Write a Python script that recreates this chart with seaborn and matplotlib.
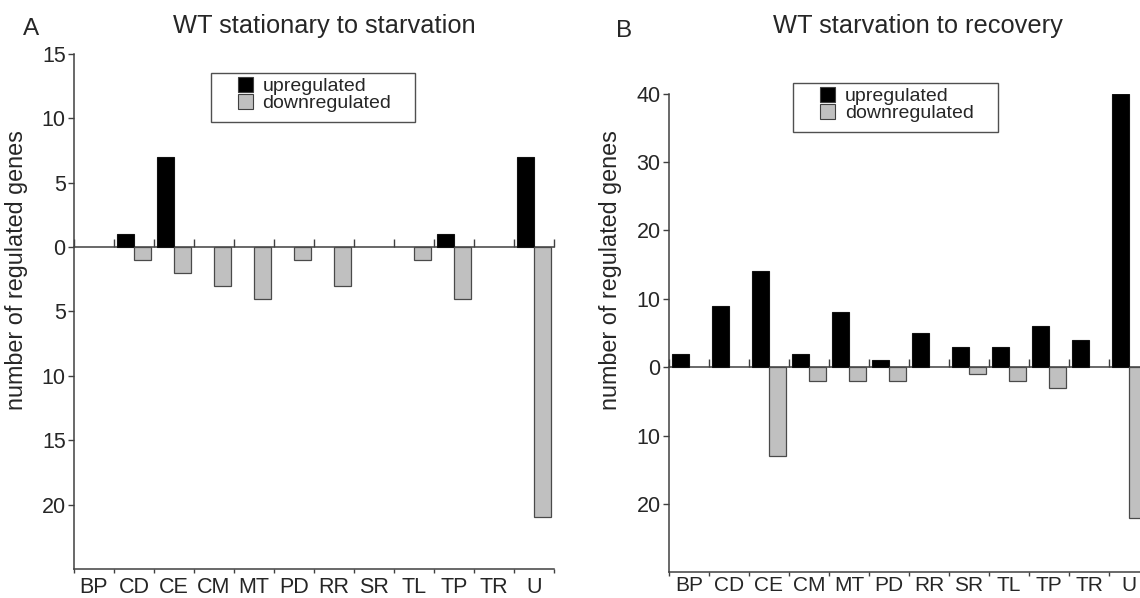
import numpy as np
import pandas as pd
import matplotlib
matplotlib.use("Agg")
import matplotlib.pyplot as plt
import seaborn as sns
from matplotlib.patches import Rectangle

# ---------------------------------------------------------------------------
# Data (number of regulated genes per functional class)
# ---------------------------------------------------------------------------
categories = ["BP", "CD", "CE", "CM", "MT", "PD", "RR", "SR", "TL", "TP", "TR", "U"]

# A - WT stationary to starvation
a_up = [0, 1, 7, 0, 0, 0, 0, 0, 0, 1, 0, 7]
a_down = [0, 1, 2, 3, 4, 1, 3, 0, 1, 4, 0, 21]

# B - WT starvation to recovery
b_up = [2, 9, 14, 2, 8, 1, 5, 3, 3, 6, 4, 40]
b_down = [0, 0, 13, 2, 2, 2, 0, 1, 2, 3, 0, 22]

a_yticks = [15, 10, 5, 0, -5, -10, -15, -20]
b_yticks = [40, 30, 20, 10, 0, -10, -20]

directions = ["upregulated", "downregulated"]

UP_COLOR = "#000000"
DOWN_COLOR = "#c0c0c0"
DOWN_EDGE = "#4a4a4a"
SPINE = "#404040"
TICK_FS = 15.5

sns.set_theme(style="white")
plt.rcParams["font.family"] = ["Liberation Sans", "DejaVu Sans"]


def long_df(up, down):
    # downregulated counts are drawn below the zero line
    return pd.DataFrame({
        "category": categories * 2,
        "direction": [directions[0]] * len(up) + [directions[1]] * len(down),
        "count": list(up) + [-v for v in down],
    })


def draw_panel(ax, up, down, ylim, yticks, leg_anchor, box, xpad, xfs):
    df = long_df(up, down)
    sns.barplot(data=df, x="category", y="count", hue="direction",
                hue_order=directions,
                palette={directions[0]: UP_COLOR, directions[1]: DOWN_COLOR},
                width=0.83, dodge=True, errorbar=None, ax=ax)

    for bar in ax.containers[0]:
        bar.set_edgecolor("#111111")
        bar.set_linewidth(0.8)
    for bar in ax.containers[1]:
        bar.set_edgecolor(DOWN_EDGE)
        bar.set_linewidth(0.9)
    # empty classes: no outline sitting on the zero line
    for cont in ax.containers:
        for bar in cont:
            if bar.get_height() == 0:
                bar.set_linewidth(0)

    # spines: left + bottom, the top spine becomes the zero line
    for side in ["left", "bottom", "top"]:
        ax.spines[side].set_color(SPINE)
        ax.spines[side].set_linewidth(1.1)
    ax.spines["right"].set_visible(False)
    ax.spines["top"].set_position(("data", 0))
    ax.spines["top"].set_zorder(0.5)

    # x axis: ticks at category boundaries, labels at centres
    bounds = np.arange(len(categories) + 1) - 0.5
    ax.set_xlim(bounds[0], bounds[-1])
    ax.set_xticks(bounds)
    ax.set_xticklabels([])
    ax.set_xticks(np.arange(len(categories)), minor=True)
    ax.set_xticklabels(categories, minor=True)
    ax.tick_params(axis="x", which="major", bottom=True, top=True,
                   direction="out", length=3, width=1.0, color=SPINE)
    ax.tick_params(axis="x", which="minor", bottom=True, length=0,
                   labelsize=xfs, pad=xpad)
    for t in ax.xaxis.get_major_ticks():
        t.tick2line.set_markersize(6)

    # y axis: absolute values on both sides of zero
    ax.set_ylim(*ylim)
    ax.set_yticks(yticks)
    ax.set_yticklabels([str(abs(v)) for v in yticks])
    ax.tick_params(axis="y", left=True, direction="out", length=4.5,
                   width=1.0, color=SPINE, labelsize=TICK_FS, pad=1.5)
    ax.set_xlabel("")
    ax.set_ylabel("")

    handles, labels = ax.get_legend_handles_labels()
    if ax.get_legend() is not None:
        ax.get_legend().remove()
    leg = ax.legend(handles, labels, loc="upper left",
                    bbox_to_anchor=leg_anchor, frameon=False,
                    fontsize=14, handlelength=0.78, handleheight=0.78,
                    handletextpad=0.5, labelspacing=-0.05,
                    borderpad=0, borderaxespad=0)
    for h in leg.legend_handles:
        h.set_edgecolor(SPINE)
        h.set_linewidth(0.8)
    ax.add_patch(Rectangle(box[:2], box[2], box[3], transform=ax.transAxes,
                           fill=False, edgecolor="#505050", linewidth=1.0,
                           clip_on=False, zorder=5))


fig = plt.figure(figsize=(11.4, 5.98), dpi=100)
ax_a = fig.add_axes([0.0649, 0.0485, 0.4211, 0.8612])
ax_b = fig.add_axes([0.5868, 0.0430, 0.4211, 0.8003])

draw_panel(ax_a, a_up, a_down, (-25, 15), a_yticks,
           leg_anchor=(0.341, 0.955), box=(0.286, 0.867, 0.425, 0.0955),
           xpad=6.0, xfs=TICK_FS)
draw_panel(ax_b, b_up, b_down, (-30, 40), b_yticks,
           leg_anchor=(0.3146, 1.014), box=(0.258, 0.9206, 0.427, 0.1024),
           xpad=3.0, xfs=15)

fig.text(324.5 / 1140, 1 - 33 / 598, "WT stationary to starvation",
         ha="center", va="baseline", fontsize=18.3)
fig.text(918 / 1140, 1 - 33 / 598, "WT starvation to recovery",
         ha="center", va="baseline", fontsize=18.3)
fig.text(23 / 1140, 1 - 35 / 598, "A", ha="left", va="baseline", fontsize=17.5)
fig.text(616 / 1140, 1 - 37 / 598, "B", ha="left", va="baseline", fontsize=17.5)

for xpos in [17 / 1140, 611 / 1140]:
    fig.text(xpos, 1 - 270 / 598, "number of regulated genes", rotation=90,
             ha="center", va="center", fontsize=16.8)

fig.savefig("out.png", dpi=100)
